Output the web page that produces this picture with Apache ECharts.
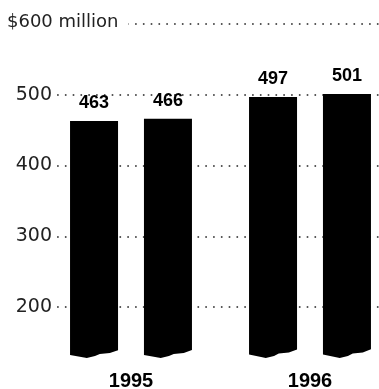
<!DOCTYPE html>
<html lang="en">
<head>
    <meta charset="UTF-8">
    <title>$ million, 1995-1996</title>
    <style type="text/css">
        *{
            margin: 0;
            padding: 0;
        }
        #main{
            width: 379px;
            height: 389px;
            position: absolute;
            background: #fff;
        }
    </style>
</head>
<body>
    <div id="main"></div>
    <script src="https://cdn.jsdelivr.net/npm/echarts@6/dist/echarts.min.js"></script>
    <script type="text/javascript">
        var myChart = echarts.init(document.getElementById('main'));

        // data
        var years = ['1995', '1996'];
        var firstBar = [463, 497];
        var secondBar = [466, 501];
        var yTicks = [200, 300, 400, 500, 600];
        var yFloor = 128;   // bars are cut off (broken bottom) here
        var yMax = 600;

        // bar with torn bottom edge
        var tornBar = 'path://M0,0 L100,0 L100,967 L83,979 L62,983 L52,992 L35,1000 L0,987 Z';

        function barSeries(name, values) {
            return {
                name: name,
                type: 'pictorialBar',
                data: values,
                symbol: tornBar,
                symbolSize: ['100%', '100%'],
                symbolPosition: 'start',
                barWidth: 48,
                barGap: '54%',
                itemStyle: { color: '#000' },
                label: {
                    show: true,
                    position: 'top',
                    distance: 9,
                    fontFamily: 'Liberation Sans',
                    fontWeight: 'bold',
                    fontSize: 18,
                    color: '#000'
                }
            };
        }

        var option = {
            animation: false,
            backgroundColor: '#fff',
            title: {
                text: '$' + yMax + ' million',
                left: 7,
                top: 13,
                padding: [0, 10, 0, 0],
                backgroundColor: '#fff',
                textStyle: {
                    fontFamily: 'DejaVu Sans',
                    fontWeight: 'normal',
                    fontSize: 18,
                    color: '#222'
                }
            },
            grid: {
                left: 41.5,
                top: 24,
                width: 358,
                bottom: 31,
                outerBoundsMode: 'none'
            },
            xAxis: {
                type: 'category',
                data: years,
                axisLine: { show: false },
                axisTick: { show: false },
                axisLabel: {
                    margin: 13,
                    fontFamily: 'Liberation Sans',
                    fontWeight: 'bold',
                    fontSize: 20,
                    color: '#000'
                }
            },
            yAxis: {
                type: 'value',
                min: yFloor,
                max: yMax,
                startValue: yFloor,
                axisLine: { show: false },
                axisTick: { show: false, customValues: yTicks },
                axisLabel: {
                    customValues: yTicks,
                    margin: -14.5,
                    padding: [0, 4, 0, 0],
                    backgroundColor: '#fff',
                    fontFamily: 'DejaVu Sans',
                    fontSize: 19,
                    color: '#222',
                    formatter: function (v) {
                        return v === yMax ? '' : v;
                    }
                },
                splitLine: {
                    show: true,
                    lineStyle: {
                        color: '#222',
                        width: 1.6,
                        type: [1.6, 6.2]
                    }
                }
            },
            series: [
                barSeries('first', firstBar),
                barSeries('second', secondBar)
            ]
        };

        myChart.setOption(option);
    </script>
</body>
</html>
